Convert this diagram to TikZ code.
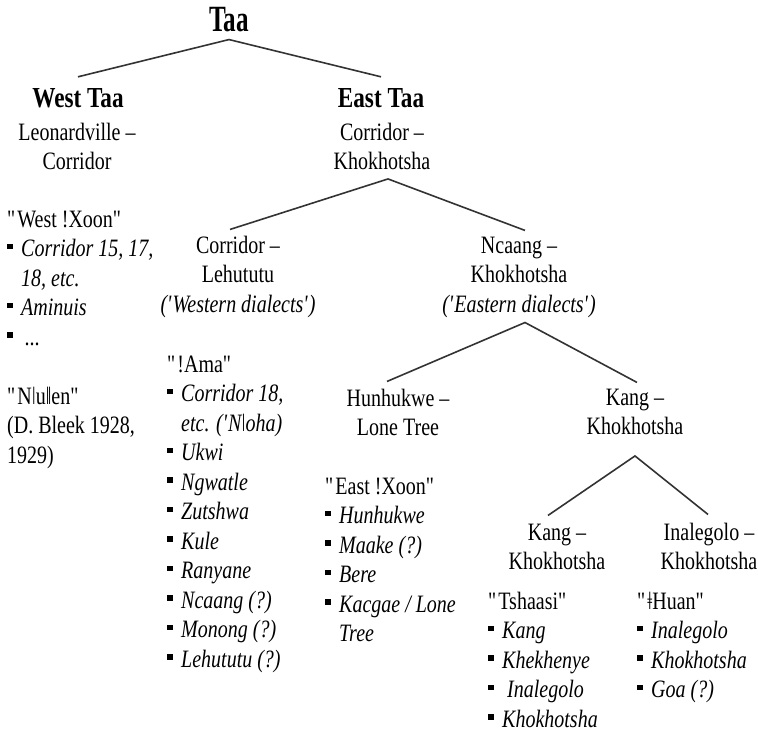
\documentclass[tikz,border=0pt]{standalone}
\usepackage{fontspec}
\setmainfont[FakeStretch=0.8]{Liberation Serif}
\newfontfamily\taafont[FakeStretch=0.68]{Liberation Serif}
% square bullet, hanging indent and straight quotes for the dialect lists
\newcommand\sqb{\makebox[14pt][l]{\rule[7.5pt]{5.5pt}{5.5pt}}}
\newcommand\ind{\hspace*{14pt}}
\newcommand\qd[1]{\textquotedbl#1\textquotedbl}
\newcommand\qs[1]{\textquotesingle#1\textquotesingle}

\begin{document}
\begin{tikzpicture}[x=1pt,y=-1pt,
  every node/.style={inner sep=0pt,font=\fontsize{25}{29.5}\selectfont},
  lbl/.style={align=center,anchor=base},
  hd/.style={anchor=base,font=\fontsize{29}{33}\selectfont\bfseries},
  lst/.style={align=left,anchor=base west},
  branch/.style={line width=1.6pt,black!80}]
\useasboundingbox (0,0) rectangle (758,752);

% tree (multi-line nodes sit on their last line)
\node[hd,font=\taafont\fontsize{37}{40}\selectfont\bfseries] (taa) at (229,32) {Taa};
\node[hd] (west) at (78,107) {West Taa};
\node[lbl] (westsub) at (77,169.5) {Leonardville --\\Corridor};
\node[hd] (east) at (381,107) {East Taa};
\node[lbl] (eastsub) at (382,169.5) {Corridor --\\Khokhotsha};
\node[lbl] (corleh) at (238,312) {Corridor --\\Lehututu\\\textit{(\qs{Western dialects})}};
\node[lbl] (ncaang) at (519,312) {Ncaang --\\Khokhotsha\\\textit{(\qs{Eastern dialects})}};
\node[lbl] (hunhuk) at (398,435.5) {Hunhukwe --\\Lone Tree};
\node[lbl] (kangup) at (635,434.5) {Kang --\\Khokhotsha};
\node[lbl] (kanglo) at (557,569.5) {Kang --\\Khokhotsha};
\node[lbl] (inal) at (709,569.5) {Inalegolo --\\Khokhotsha};

% lists
\node[lst] (wxoon) at (7,345) {\qd{West !Xoon}\\\sqb\textit{Corridor 15, 17,}\\\ind\textit{18, etc.}\\\sqb\textit{Aminuis}\\\sqb\hspace*{4pt}\textit{...}};
\node[lst] (nuen) at (7,463) {\qd{Nǀuǁen}\\(D. Bleek 1928,\\1929)};
\node[lst] (ama) at (167,667) {\qd{!Ama}\\\sqb\textit{Corridor 18,}\\\ind\textit{etc. (\textquotesingle Nǀoha)}\\\sqb\textit{Ukwi}\\\sqb\textit{Ngwatle}\\\sqb\textit{Zutshwa}\\\sqb\textit{Kule}\\\sqb\textit{Ranyane}\\\sqb\textit{Ncaang (?)}\\\sqb\textit{Monong (?)}\\\sqb\textit{Lehututu (?)}};
\node[lst] (exoon) at (325,641.5) {\qd{East !Xoon}\\\sqb\textit{Hunhukwe}\\\sqb\textit{Maake (?)}\\\sqb\textit{Bere}\\\sqb\textit{Kacgae / Lone}\\\ind\textit{Tree}};
\node[lst] (tshaasi) at (488,727) {\qd{Tshaasi}\\\sqb\textit{Kang}\\\sqb\textit{Khekhenye}\\\sqb\hspace*{5pt}\textit{Inalegolo}\\\sqb\textit{Khokhotsha}};
\node[lst] (huan) at (637,697.5) {\qd{ǂHuan}\\\sqb\textit{Inalegolo}\\\sqb\textit{Khokhotsha}\\\sqb\textit{Goa (?)}};

% branches
\draw[branch] ([yshift=11pt]west.north) -- ([yshift=-7pt]taa.south) -- ([yshift=11pt]east.north);
\draw[branch] ([xshift=-8pt,yshift=6pt]corleh.north) -- ([xshift=6pt,yshift=-9pt]eastsub.south) -- ([xshift=6pt,yshift=6pt]ncaang.north);
\draw[branch] ([xshift=-11pt,yshift=7pt]hunhuk.north) -- ([xshift=6pt,yshift=-5pt]ncaang.south) -- ([xshift=2pt,yshift=6pt]kangup.north);
\draw[branch] ([xshift=-9pt,yshift=8pt]kanglo.north) -- ([yshift=-21pt]kangup.south) -- ([xshift=-1pt,yshift=8pt]inal.north);
\end{tikzpicture}
\end{document}
